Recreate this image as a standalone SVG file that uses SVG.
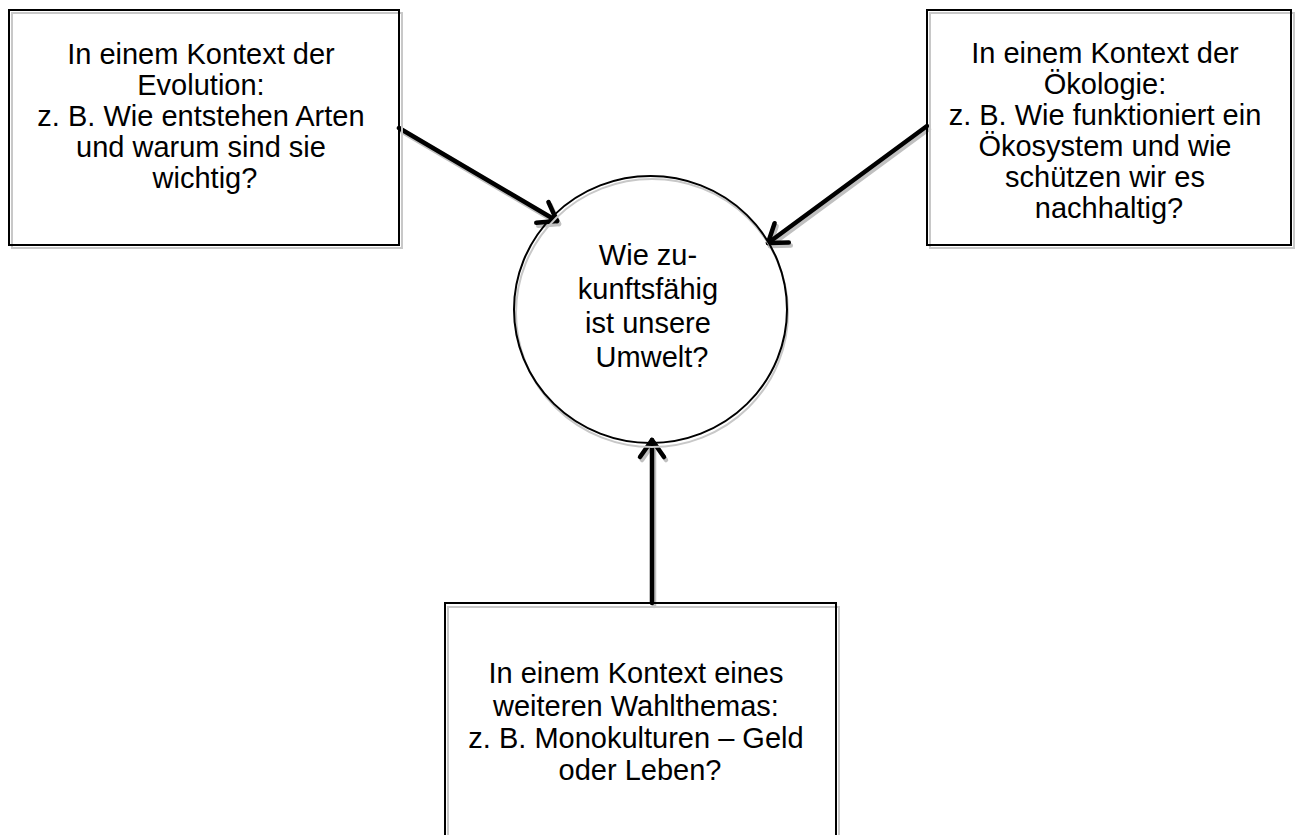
<svg xmlns="http://www.w3.org/2000/svg" width="1301" height="835" viewBox="0 0 1301 835">
  <style>
    .box { fill: none; stroke: #000; stroke-width: 2; }
    .shadow { fill: none; stroke: #c8c8c8; stroke-width: 2; }
    .lbl { font-family: "Liberation Sans", Arial, sans-serif; font-size: 29px; fill: #000; text-anchor: middle; }
    .arrow { fill: none; stroke: #000; stroke-width: 4.5; stroke-linecap: round; }
    .arrow-sh { fill: none; stroke: #c0c0c0; stroke-width: 4.5; stroke-linecap: round; }
  </style>
  <defs>
    <marker id="head" viewBox="0 0 24 24" refX="21" refY="12" markerWidth="24" markerHeight="24" markerUnits="userSpaceOnUse" orient="auto" overflow="visible">
      <path d="M4,0 L21,12 L4,24" fill="none" stroke="#000" stroke-width="4.5" stroke-linecap="round" stroke-linejoin="round"/>
    </marker>
    <marker id="head-sh" viewBox="0 0 24 24" refX="21" refY="12" markerWidth="24" markerHeight="24" markerUnits="userSpaceOnUse" orient="auto" overflow="visible">
      <path d="M4,0 L21,12 L4,24" fill="none" stroke="#c0c0c0" stroke-width="4.5" stroke-linecap="round" stroke-linejoin="round"/>
    </marker>
  </defs>
  <rect width="1301" height="835" fill="#fff"/>

  <g id="connectors">
    <g transform="translate(2,3)">
      <path class="arrow-sh" d="M399,128 L557,221" marker-end="url(#head-sh)"/>
      <path class="arrow-sh" d="M927,126 L768,243" marker-end="url(#head-sh)"/>
      <path class="arrow-sh" d="M652,603 L652,440" marker-end="url(#head-sh)"/>
    </g>
    <path class="arrow" d="M399,128 L557,221" marker-end="url(#head)"/>
    <path class="arrow" d="M927,126 L768,243" marker-end="url(#head)"/>
    <path class="arrow" d="M652,603 L652,440" marker-end="url(#head)"/>
  </g>

  <g id="node-evolution">
    <rect class="shadow" x="12" y="13" width="390" height="235"/>
    <rect class="box" x="9" y="10" width="390" height="235"/>
    <text class="lbl">
      <tspan x="205" y="64">In einem Kontext der</tspan>
      <tspan x="205" y="95">Evolution:</tspan>
      <tspan x="205" y="126">z. B. Wie entstehen Arten</tspan>
      <tspan x="205" y="157">und warum sind sie</tspan>
      <tspan x="205" y="188">wichtig?</tspan>
    </text>
  </g>

  <g id="node-oekologie">
    <rect class="shadow" x="930" y="13" width="364" height="235"/>
    <rect class="box" x="927" y="10" width="364" height="235"/>
    <text class="lbl">
      <tspan x="1109" y="63">In einem Kontext der</tspan>
      <tspan x="1109" y="94">Ökologie:</tspan>
      <tspan x="1109" y="125">z. B. Wie funktioniert ein</tspan>
      <tspan x="1109" y="156">Ökosystem und wie</tspan>
      <tspan x="1109" y="187">schützen wir es</tspan>
      <tspan x="1109" y="218">nachhaltig?</tspan>
    </text>
  </g>

  <g id="node-center">
    <ellipse class="shadow" cx="652" cy="313" rx="136" ry="134"/>
    <ellipse class="box" cx="650.5" cy="309.5" rx="136.5" ry="133.5"/>
    <text class="lbl">
      <tspan x="652" y="265">Wie zu-</tspan>
      <tspan x="652" y="299">kunftsfähig</tspan>
      <tspan x="652" y="333">ist unsere</tspan>
      <tspan x="652" y="367">Umwelt?</tspan>
    </text>
  </g>

  <g id="node-wahlthema">
    <rect class="shadow" x="448" y="607" width="391" height="240"/>
    <rect class="box" x="445" y="603" width="391" height="240"/>
    <text class="lbl">
      <tspan x="640" y="683">In einem Kontext eines</tspan>
      <tspan x="640" y="716">weiteren Wahlthemas:</tspan>
      <tspan x="640" y="748">z. B. Monokulturen – Geld</tspan>
      <tspan x="640" y="780">oder Leben?</tspan>
    </text>
  </g>
</svg>
